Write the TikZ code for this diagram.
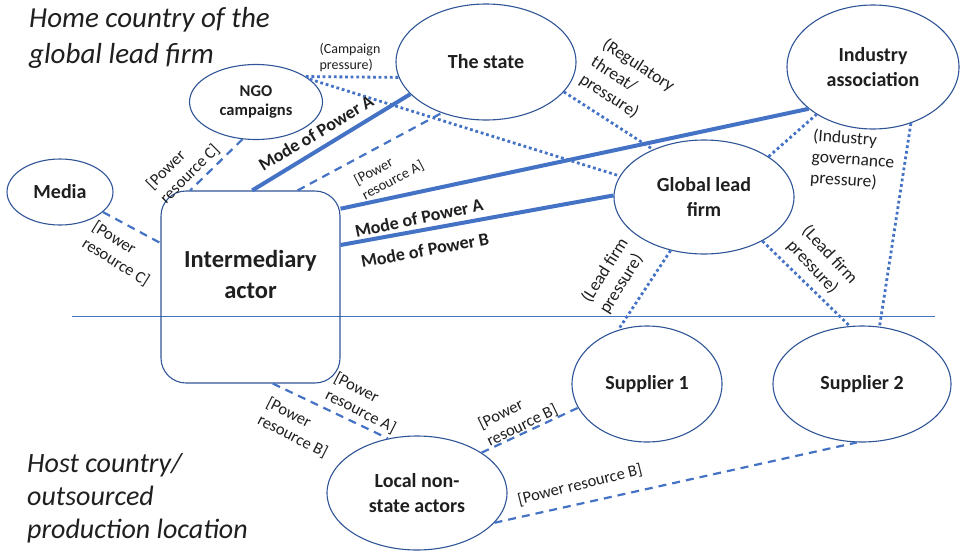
\documentclass[tikz,border=0pt]{standalone}
\usepackage{fontspec}
\setmainfont{Carlito}
\usetikzlibrary{shapes.geometric}
\definecolor{lineblue}{HTML}{4472C4}
\definecolor{edgeblue}{HTML}{2F5597}
\definecolor{txt}{HTML}{1F1F1F}
\tikzset{
  ell/.style={ellipse, draw=edgeblue, line width=1.1pt, inner sep=0pt, text=txt,
    align=center, font=\bfseries\fontsize{20}{25}\selectfont},
  thickln/.style={draw=lineblue, line width=4pt},
  dashln/.style={draw=lineblue, line width=2.2pt, dash pattern=on 8pt off 6pt},
  dotln/.style={draw=lineblue, line width=2.8pt, dash pattern=on 2.8pt off 2.8pt},
  lbl/.style={text=txt, inner sep=0pt, align=left, font=\fontsize{16.5}{19.5}\selectfont},
  plbl/.style={text=txt, inner sep=0pt, align=left, font=\fontsize{17.5}{21}\selectfont},
  modelbl/.style={text=txt, inner sep=0pt, font=\bfseries\fontsize{18}{22}\selectfont},
  region/.style={text=txt, inner sep=0pt, align=left, font=\itshape\fontsize{29}{36}\selectfont},
}
\begin{document}
\begin{tikzpicture}[x=1pt,y=-1pt]
\useasboundingbox (0,0) rectangle (961,552);

% region texts
\node[region, anchor=north west] (home) at (29,7) {Home country of the\\global lead firm};
\node[region, anchor=north west, font=\itshape\fontsize{28}{33}\selectfont] (host) at (27,453) {Host country/\\outsourced\\production location};

% divider
\coordinate (divL) at (72,316);
\coordinate (divR) at (935,316);
\draw[lineblue, line width=1pt] (divL) -- (divR);

% nodes
\node[ell, minimum width=106pt, minimum height=66pt] (media) at (60,192) {Media};
\node[ell, minimum width=133pt, minimum height=75pt, font=\bfseries\fontsize{16.5}{19}\selectfont] (ngo) at (256,102) {NGO\\campaigns};
\node[ell, minimum width=180pt, minimum height=116pt] (state) at (486,62) {The state};
\node[ell, minimum width=172pt, minimum height=124pt] (ind) at (873,67) {Industry\\association};
\node[ell, minimum width=180pt, minimum height=114pt] (glf) at (704,197) {Global lead\\firm};
\node[draw=edgeblue, line width=1.1pt, rounded corners=25pt, minimum width=179pt, minimum height=192pt, inner sep=0pt] (inter) at (250.5,287) {};
\node[text=txt, align=center, inner sep=0pt, font=\bfseries\fontsize{24.5}{31}\selectfont] (intertext) at (250.5,274) {Intermediary\\actor};
\node[ell, minimum width=150pt, minimum height=116pt] (sup1) at (647,384) {Supplier 1};
\node[ell, minimum width=178pt, minimum height=116pt] (sup2) at (862,384) {Supplier 2};
\node[ell, minimum width=180pt, minimum height=114pt] (local) at (417,493) {Local non-\\state actors};

% connectors
\draw[dashln] (media.-25) -- (inter.154);
\draw[dashln] (ngo.-110) -- (inter.122);
\draw[thickln] (inter.89) -- (state.-157.5);
\draw[dashln] (inter.64) -- (state.-131);
\draw[dotln] (ngo.27) -- (state.-170);
\draw[dotln] (ngo.23) -- (glf.166);
\draw[dotln] (state.-21) -- (glf.137);
\draw[thickln] (inter.41) -- (ind.-147);
\draw[thickln] (inter.25) -- (glf.179);
\draw[dotln] (glf.32) -- (ind.-140);
\draw[dotln] (ind.-56) -- (sup2.73);
\draw[dotln] (glf.-122) -- (sup1.118);
\draw[dotln] (glf.-37) -- (sup2.102);
\draw[dashln] (inter.-77.4) -- (local.118.6);
\draw[dashln] (local.32.4) -- (sup1.-161);
\draw[dashln] (local.-21) -- (sup2.-95);

% labels
\node[lbl, rotate=-32] (l1) at (121,254) {[Power\\resource C]};
\node[lbl, rotate=45] (l2) at (183,167) {[Power\\resource C]};
\node[modelbl, rotate=31] (l3) at (316,133) {Mode of Power A};
\node[lbl, rotate=28, font=\fontsize{14.5}{17}\selectfont] (l4) at (389,173) {[Power\\resource A]};
\node[lbl, font=\fontsize{14}{16}\selectfont] (l5) at (350,58) {(Campaign\\pressure)};
\node[plbl, rotate=-33] (l6) at (627,83) {(Regulatory\\threat/\\pressure)};
\node[modelbl, rotate=12] (l7) at (419,218) {Mode of Power A};
\node[modelbl, rotate=10.5] (l8) at (425,250) {Mode of Power B};
\node[plbl, rotate=-4] (l9) at (853,160) {(Industry\\governance\\pressure)};
\node[plbl, rotate=58] (l10) at (614,276) {(Lead firm\\pressure)};
\node[plbl, rotate=-47] (l11) at (822,262) {(Lead firm\\pressure)};
\node[lbl, rotate=-27] (l12) at (365,403) {[Power\\resource A]};
\node[lbl, rotate=-27] (l13) at (297,428) {[Power\\resource B]};
\node[lbl, rotate=26] (l14) at (518,417) {[Power\\resource B]};
\node[lbl, rotate=14] (l15) at (580,485) {[Power resource B]};
\end{tikzpicture}
\end{document}
